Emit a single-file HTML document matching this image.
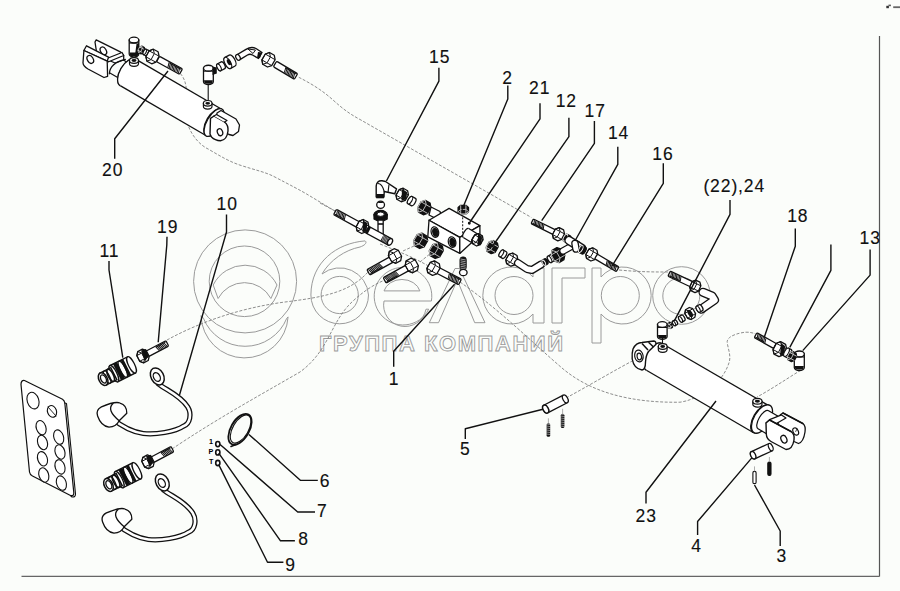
<!DOCTYPE html>
<html><head><meta charset="utf-8"><style>
html,body{margin:0;padding:0;background:#fbfdfa;}
svg{display:block;font-family:"Liberation Sans",sans-serif;}
</style></head><body>
<svg width="900" height="591" viewBox="0 0 900 591">
<rect width="900" height="591" fill="#fbfdfa"/>
<g fill="none" stroke="#9a9a9a" stroke-width="1">
<circle cx="245.1" cy="281.4" r="51.5"/><circle cx="244.5" cy="281.3" r="35.3"/>
<path d="M213.2,285 A35.6,35.6 0 0 1 277,285 L270.9,298.5 A29.9,29.9 0 0 0 218.1,298.5 Z"/>
<path d="M201,315.7 A43.6,43.6 0 0 0 288.1,316.9 L286.8,318.2 A45,45 0 0 1 203.4,318.2 Z"/>
<path d="M365.1,240.9 C337,243 311,262 310.9,295 A28.8,28.8 0 0 0 368.5,295 A28.8,28.8 0 0 0 322,274 C330,260 345,250 360,247 C366,245 367,242 365.1,240.9 Z"/>
<circle cx="339.7" cy="295" r="18.6"/>
<path d="M431.4,301 A28.8,28.8 0 1 0 428.7,309.2 L426,309.2 A18.6,18.6 0 0 1 384,301 Z"/>
<path d="M384,290.9 A18.6,15.5 0 0 1 419.9,290.9 Z"/>
<path d="M429.3,322.7 L455,268.5 L459.5,268.5 L485,322.7 L474.7,322.7 L457.3,280 L438.5,322.7 Z"/>
<path d="M544,268 L544,323 L533,323 L533,314 A28.5,28.5 0 1 1 533,277 L533,268 Z"/>
<circle cx="514" cy="295.5" r="19"/>
<path d="M552,323 L552,268 L585,268 L585,278 L562,278 L562,323 Z"/>
<path d="M592,343 L592,268 L601,268 L601,277 A28.5,28.5 0 1 1 601,314 L601,343 Z"/>
<circle cx="620.3" cy="295.5" r="19"/>
<circle cx="681.5" cy="295.5" r="28.8"/><circle cx="681.3" cy="296" r="18.5"/>
</g>
<text x="319" y="351" font-size="22" font-weight="bold" textLength="244" lengthAdjust="spacing" fill="#fbfdfa" stroke="#9a9a9a" stroke-width="0.9">ГРУППА КОМПАНИЙ</text>
<line x1="879.5" y1="36" x2="879.5" y2="576.5" stroke="#555" stroke-width="1.2" />
<line x1="21.5" y1="576.3" x2="879.5" y2="576.3" stroke="#666" stroke-width="1.2" />
<rect x="886.3" y="5.8" width="2.6" height="2.4" fill="#333"/><rect x="888.5" y="4.6" width="2.4" height="1.6" fill="#555"/><rect x="893.2" y="6.3" width="6.8" height="1.8" fill="#666"/>
<text x="429" y="62.9" font-size="17.5" text-anchor="start" letter-spacing="0.9" stroke="#000" stroke-width="0.12" fill="#111">15</text>
<text x="502.3" y="84.0" font-size="17.5" text-anchor="start" letter-spacing="0.9" stroke="#000" stroke-width="0.12" fill="#111">2</text>
<text x="529" y="94.0" font-size="17.5" text-anchor="start" letter-spacing="0.9" stroke="#000" stroke-width="0.12" fill="#111">21</text>
<text x="555.7" y="107.39999999999999" font-size="17.5" text-anchor="start" letter-spacing="0.9" stroke="#000" stroke-width="0.12" fill="#111">12</text>
<text x="584.6" y="117.39999999999999" font-size="17.5" text-anchor="start" letter-spacing="0.9" stroke="#000" stroke-width="0.12" fill="#111">17</text>
<text x="607.9" y="138.5" font-size="17.5" text-anchor="start" letter-spacing="0.9" stroke="#000" stroke-width="0.12" fill="#111">14</text>
<text x="652.3" y="159.6" font-size="17.5" text-anchor="start" letter-spacing="0.9" stroke="#000" stroke-width="0.12" fill="#111">16</text>
<text x="703.4" y="192.1" font-size="17.5" text-anchor="start" letter-spacing="0.9" stroke="#000" stroke-width="0.12" fill="#111">(22),24</text>
<text x="787.2" y="221.7" font-size="17.5" text-anchor="start" letter-spacing="0.9" stroke="#000" stroke-width="0.12" fill="#111">18</text>
<text x="859.5" y="244.2" font-size="17.5" text-anchor="start" letter-spacing="0.9" stroke="#000" stroke-width="0.12" fill="#111">13</text>
<text x="102" y="175.79999999999998" font-size="17.5" text-anchor="start" letter-spacing="0.9" stroke="#000" stroke-width="0.12" fill="#111">20</text>
<text x="216.6" y="210.29999999999998" font-size="17.5" text-anchor="start" letter-spacing="0.9" stroke="#000" stroke-width="0.12" fill="#111">10</text>
<text x="157.1" y="232.6" font-size="17.5" text-anchor="start" letter-spacing="0.9" stroke="#000" stroke-width="0.12" fill="#111">19</text>
<text x="99.5" y="256.70000000000005" font-size="17.5" text-anchor="start" letter-spacing="0.9" stroke="#000" stroke-width="0.12" fill="#111">11</text>
<text x="388.8" y="385.0" font-size="17.5" text-anchor="start" letter-spacing="0.9" stroke="#000" stroke-width="0.12" fill="#111">1</text>
<text x="460" y="455.20000000000005" font-size="17.5" text-anchor="start" letter-spacing="0.9" stroke="#000" stroke-width="0.12" fill="#111">5</text>
<text x="319.7" y="487.20000000000005" font-size="17.5" text-anchor="start" letter-spacing="0.9" stroke="#000" stroke-width="0.12" fill="#111">6</text>
<text x="316.9" y="517.4" font-size="17.5" text-anchor="start" letter-spacing="0.9" stroke="#000" stroke-width="0.12" fill="#111">7</text>
<text x="298.2" y="544.7" font-size="17.5" text-anchor="start" letter-spacing="0.9" stroke="#000" stroke-width="0.12" fill="#111">8</text>
<text x="285.2" y="570.6" font-size="17.5" text-anchor="start" letter-spacing="0.9" stroke="#000" stroke-width="0.12" fill="#111">9</text>
<text x="635.6" y="521.7" font-size="17.5" text-anchor="start" letter-spacing="0.9" stroke="#000" stroke-width="0.12" fill="#111">23</text>
<text x="691.2" y="552.3000000000001" font-size="17.5" text-anchor="start" letter-spacing="0.9" stroke="#000" stroke-width="0.12" fill="#111">4</text>
<text x="776.5" y="561.8000000000001" font-size="17.5" text-anchor="start" letter-spacing="0.9" stroke="#000" stroke-width="0.12" fill="#111">3</text>
<path d="M298.8,77.3 C310,83 322,90 333,100 C342,108 348,113 360,119.5 L531.3,217.4" fill="none" stroke="#7a7a7a" stroke-width="0.85" stroke-dasharray="3 1.6"/>
<path d="M180.3,73.5 C188,82 187,95 185.7,111.4 C185,125 195,143 208.7,149.3 C220,156 230,162 241.2,165.5 C255,170 265,172 273.7,176.4 C290,185 300,190 308.8,195.3 L335.9,211.6" fill="none" stroke="#7a7a7a" stroke-width="0.85" stroke-dasharray="3 1.6"/>
<path d="M167,340 C200,322 240,308 285,302 C325,297 350,292 368,272" fill="none" stroke="#7a7a7a" stroke-width="0.85" stroke-dasharray="3 1.6"/>
<path d="M172,449 C215,420 255,398 300,372 C330,350 330,322 353,301 C365,290 375,284 385,280" fill="none" stroke="#7a7a7a" stroke-width="0.85" stroke-dasharray="3 1.6"/>
<path d="M460,282 C500,310 535,345 562,368 C590,392 630,403 680,402.2 C695,400 705,392 715,384 C722,378 727,370 729.5,361.1 C731,354 727,346 727.2,341.3 C728,336 738,333 745.5,332.2 C750,332 753,333 755.4,333.7" fill="none" stroke="#7a7a7a" stroke-width="0.85" stroke-dasharray="3 1.6"/>
<path d="M566,398 C590,385 615,370 636,359" fill="none" stroke="#7a7a7a" stroke-width="0.85" stroke-dasharray="3 1.6"/>
<path d="M801,370 C785,380 770,390 757,397" fill="none" stroke="#7a7a7a" stroke-width="0.85" stroke-dasharray="3 1.6"/>
<path d="M619,270 C640,272 655,272 669,272" fill="none" stroke="#7a7a7a" stroke-width="0.85" stroke-dasharray="3 1.6"/>
<path d="M380,244 C400,252 415,258 432,268" fill="none" stroke="#7a7a7a" stroke-width="0.85" stroke-dasharray="3 1.6"/>
<path d="M403,251 L414,246" fill="none" stroke="#7a7a7a" stroke-width="0.85" stroke-dasharray="3 1.6"/>
<path d="M420,262 L431,253" fill="none" stroke="#7a7a7a" stroke-width="0.85" stroke-dasharray="3 1.6"/>
<path d="M320,203 L335,211" fill="none" stroke="#7a7a7a" stroke-width="0.85" stroke-dasharray="3 1.6"/>
<g transform="translate(127.9 72.4) rotate(30.2)">
<path d="M0,-15.3 L99.61536026135728,-15.3 L99.61536026135728,15.3 L0,15.3 A7.65,15.3 0 0 1 0,-15.3 Z" fill="#fff" stroke="none"/>
<line x1="0" y1="-15.3" x2="99.61536026135728" y2="-15.3" stroke="#111" stroke-width="1.3"/>
<line x1="0" y1="15.3" x2="99.61536026135728" y2="15.3" stroke="#111" stroke-width="1.3"/>
<path d="M0,-15.3 A7.65,15.3 0 0 0 0,15.3" fill="#fff" stroke="#111" stroke-width="1.3"/>
<ellipse cx="99.61536026135728" cy="0" rx="7.65" ry="15.3" fill="#fff" stroke="#111" stroke-width="1.3"/>
</g>
<g transform="translate(214.0 122.5) rotate(30.2)">
<ellipse cx="0" cy="0" rx="7" ry="15.6" fill="#fff" stroke="#111" stroke-width="1.3"/>
</g>
<polygon points="217.0,113.0 221.0,110.5 236.0,119.0 239.5,125.0 238.5,131.5 233.0,135.5 229.0,134.5 215.0,126.0" fill="#fff" stroke="#111" stroke-width="1.3" stroke-linejoin="round" />
<path d="M210.5,118.3 L214,116 L224.5,122 Q228.5,125 228,131 Q227,140 220.5,140.8 Q215,140.5 211.5,137 L210,134 Z" fill="#fff" stroke="#111" stroke-width="1.4" stroke-linejoin="round" stroke-linecap="round" />
<path d="M214,116 L216.5,114.5 L227,120.5 L224.5,122" fill="#fff" stroke="#111" stroke-width="1.2" stroke-linejoin="round" stroke-linecap="round" />
<ellipse cx="220" cy="132.2" rx="2.6" ry="3.6" transform="rotate(-20 220 132.2)" fill="#fff" stroke="#111" stroke-width="1.3" />
<g transform="translate(114.0 65.0) rotate(30.2)">
<path d="M0,-9 L10,-9 M0,9 L10,9" fill="none" stroke="#111" stroke-width="1.2"/>
</g>
<polygon points="95.0,42.0 96.2,39.9 120.3,51.8 123.7,55.5 123.7,60.0 115.0,63.0 97.0,55.0" fill="#fff" stroke="#111" stroke-width="1.3" stroke-linejoin="round" />
<ellipse cx="103.4" cy="50.9" rx="2.8" ry="4.2" transform="rotate(-30 103.4 50.9)" fill="#fff" stroke="#111" stroke-width="1.3" />
<polygon points="106.8,58.5 122.0,52.5 123.7,55.5 108.0,62.0" fill="#fff" stroke="#111" stroke-width="1.3" stroke-linejoin="round" />
<polygon points="86.5,45.8 108.5,57.2 107.2,61.1 83.9,50.5" fill="#fff" stroke="#111" stroke-width="1.3" stroke-linejoin="round" />
<path d="M83.9,50.5 L107.2,61.1 L107.6,76.3 L104,77.5 L88,69 Q83,66 83,62.8 Z" fill="#fff" stroke="#111" stroke-width="1.3" stroke-linejoin="round" stroke-linecap="round" />
<ellipse cx="90.3" cy="59.4" rx="2.9" ry="4.2" transform="rotate(-30 90.3 59.4)" fill="#fff" stroke="#111" stroke-width="1.3" />
<path d="M125.4,59.4 Q110,63 109.3,73.8" fill="none" stroke="#111" stroke-width="1.2" stroke-linejoin="round" stroke-linecap="round" />
<g transform="translate(127.9 72.4) rotate(30.2)">
<path d="M0,-15.3 A8,15.3 0 0 0 0,15.3" fill="#fff" stroke="#111" stroke-width="1.3"/>
</g>
<path d="M129.5,60.5 L129.5,63.5 A4.5,2.8 0 0 0 138.5,63.5 L138.5,60.5 Z" fill="#fff" stroke="#111" stroke-width="1.2"/>
<ellipse cx="134" cy="60.5" rx="4.5" ry="2.8" fill="#fff" stroke="#111" stroke-width="1.2"/>
<ellipse cx="134" cy="60.5" rx="2.475" ry="1.4" fill="#111" stroke="none"/>
<path d="M203.39999999999998,103.3 L203.39999999999998,106.3 A4.3,2.8 0 0 0 212.0,106.3 L212.0,103.3 Z" fill="#fff" stroke="#111" stroke-width="1.2"/>
<ellipse cx="207.7" cy="103.3" rx="4.3" ry="2.8" fill="#fff" stroke="#111" stroke-width="1.2"/>
<ellipse cx="207.7" cy="103.3" rx="2.365" ry="1.4" fill="#111" stroke="none"/>
<line x1="208.2" y1="83" x2="208.2" y2="100" stroke="#111" stroke-width="1.1" />
<path d="M129.2,40.1 L129.2,54.1 A4.8,2.88 0 0 0 138.8,54.1 L138.8,40.1 Z" fill="#fff" stroke="#111" stroke-width="1.3"/>
<ellipse cx="134" cy="40.1" rx="4.8" ry="2.88" fill="#fff" stroke="#111" stroke-width="1.3"/>
<line x1="129.2" y1="43.1" x2="138.8" y2="43.1" stroke="#111" stroke-width="1"/>
<path d="M129.7,52.6 L138.3,52.6 L137.8,56.1 L130.2,56.1 Z" fill="#111"/>
<path d="M136.5,44 L139,44 L139,54 L135,55 Z" fill="#111"/>
<polygon points="137.9,50.2 139.6,47.0 141.8,46.1 144.3,47.5 144.9,49.8 143.2,53.0 141.1,53.9 138.5,52.5" fill="#111" stroke="#111" stroke-width="1.3" stroke-linejoin="round"/>
<polygon points="138.5,52.5 140.7,51.7 142.3,48.5 141.8,46.1 139.6,47.0 137.9,50.2" fill="none" stroke="#fff" stroke-width="0.7"/>
<line x1="140.69" y1="51.66" x2="143.25" y2="52.97" stroke="#fff" stroke-width="0.7"/>
<line x1="142.32" y1="48.45" x2="144.89" y2="49.76" stroke="#fff" stroke-width="0.7"/>
<line x1="139.55" y1="47.03" x2="142.11" y2="48.34" stroke="#fff" stroke-width="0.7"/>
<line x1="137.91" y1="50.24" x2="140.48" y2="51.55" stroke="#fff" stroke-width="0.7"/>
<g transform="translate(146.0 52.5) rotate(27.0)">
<path d="M-1.35,-3.0 L1.35,-3.0 A1.35,3.0 0 0 1 1.35,3.0 L-1.35,3.0 A1.35,3.0 0 0 1 -1.35,-3.0 Z" fill="#fff" stroke="#111" stroke-width="1.3"/>
<ellipse cx="-1.35" cy="0" rx="1.35" ry="3.0" fill="#fff" stroke="#111" stroke-width="1.1"/>
</g>
<g transform="translate(181.0 71.6) rotate(-151.3)">
<rect x="0" y="-3.1" width="26.2251787410496" height="6.2" rx="1.2" fill="#fff" stroke="#111" stroke-width="1.3"/>
<line x1="1.5" y1="-2.6" x2="2.9" y2="2.6" stroke="#111" stroke-width="1.0"/>
<line x1="3.0" y1="-2.6" x2="4.4" y2="2.6" stroke="#111" stroke-width="1.0"/>
<line x1="4.5" y1="-2.6" x2="5.9" y2="2.6" stroke="#111" stroke-width="1.0"/>
<line x1="6.0" y1="-2.6" x2="7.4" y2="2.6" stroke="#111" stroke-width="1.0"/>
<line x1="7.5" y1="-2.6" x2="8.9" y2="2.6" stroke="#111" stroke-width="1.0"/>
<line x1="9.0" y1="-2.6" x2="10.4" y2="2.6" stroke="#111" stroke-width="1.0"/>
<line x1="10.5" y1="-2.6" x2="11.9" y2="2.6" stroke="#111" stroke-width="1.0"/>
<line x1="12.0" y1="-2.6" x2="13.4" y2="2.6" stroke="#111" stroke-width="1.0"/>
<line x1="13.5" y1="-2.6" x2="14.9" y2="2.6" stroke="#111" stroke-width="1.0"/>
<line x1="1" y1="2.1" x2="14.42384830757728" y2="2.1" stroke="#111" stroke-width="1"/>
</g>
<polygon points="145.9,56.8 149.1,50.8 153.3,49.2 158.1,51.8 159.1,56.2 155.9,62.2 151.7,63.8 146.9,61.2" fill="#fff" stroke="#111" stroke-width="1.3" stroke-linejoin="round"/>
<polygon points="146.9,61.2 151.1,59.6 154.3,53.6 153.3,49.2 149.1,50.8 145.9,56.8" fill="none" stroke="#111" stroke-width="1.0"/>
<line x1="151.1" y1="59.61" x2="155.91" y2="62.16" stroke="#111" stroke-width="1.0"/>
<line x1="154.29" y1="53.6" x2="159.1" y2="56.16" stroke="#111" stroke-width="1.0"/>
<line x1="149.09" y1="50.84" x2="153.9" y2="53.39" stroke="#111" stroke-width="1.0"/>
<line x1="145.9" y1="56.84" x2="150.71" y2="59.4" stroke="#111" stroke-width="1.0"/>
<path d="M203.5,68.2 L203.5,81.7 A4.9,2.94 0 0 0 213.3,81.7 L213.3,68.2 Z" fill="#fff" stroke="#111" stroke-width="1.3"/>
<ellipse cx="208.4" cy="68.2" rx="4.9" ry="2.94" fill="#fff" stroke="#111" stroke-width="1.3"/>
<line x1="203.5" y1="71.2" x2="213.3" y2="71.2" stroke="#111" stroke-width="1"/>
<path d="M204.0,80.2 L212.8,80.2 L212.3,83.7 L204.5,83.7 Z" fill="#111"/>
<path d="M212.5,66.5 L216.8,67.5 L216.8,73.5 L212.5,75 Z" fill="#111"/>
<g transform="translate(221.0 66.3) rotate(-28.0)">
<path d="M-2.25,-3.8 L2.25,-3.8 A1.71,3.8 0 0 1 2.25,3.8 L-2.25,3.8 A1.71,3.8 0 0 1 -2.25,-3.8 Z" fill="#fff" stroke="#111" stroke-width="1.3"/>
<ellipse cx="-2.25" cy="0" rx="1.71" ry="3.8" fill="#fff" stroke="#111" stroke-width="1.1"/>
</g>
<g transform="translate(230.0 61.7) rotate(-28.0)">
<path d="M-2.5,-6.2 L2.5,-6.2 A2.79,6.2 0 0 1 2.5,6.2 L-2.5,6.2 A2.79,6.2 0 0 1 -2.5,-6.2 Z" fill="#fff" stroke="#111" stroke-width="1.3"/>
<ellipse cx="-2.5" cy="0" rx="2.79" ry="6.2" fill="#fff" stroke="#111" stroke-width="1.1"/>
</g>
<ellipse cx="229" cy="62.2" rx="1.8" ry="3.2" transform="rotate(-28 229 62.2)" fill="#111"/>
<path d="M236.5,55 L246,49.3 Q251.5,46 256,48.5 L262,52.5 L258.5,58.5 L252.5,55 Q250,53.5 247.5,55 L239.5,59.8 Z" fill="#fff" stroke="#111" stroke-width="1.4" stroke-linejoin="round"/>
<ellipse cx="238" cy="57.4" rx="2" ry="3.1" transform="rotate(-30 238 57.4)" fill="#fff" stroke="#111" stroke-width="1.2"/>
<path d="M248,49 L253,53.5 L255.5,50 Z" fill="none" stroke="#111" stroke-width="1"/>
<path d="M258,52 L262,52.5 L260,58 L257,58 Z" fill="#111"/>
<polygon points="261.9,59.9 265.3,54.0 269.5,52.5 274.3,55.3 275.1,59.7 271.7,65.6 267.5,67.0 262.7,64.3" fill="#fff" stroke="#111" stroke-width="1.3" stroke-linejoin="round"/>
<polygon points="262.7,64.3 267.0,62.9 270.4,57.0 269.5,52.5 265.3,54.0 261.9,59.9" fill="none" stroke="#111" stroke-width="1.0"/>
<line x1="266.99" y1="62.86" x2="271.71" y2="65.58" stroke="#111" stroke-width="1.0"/>
<line x1="270.39" y1="56.97" x2="275.11" y2="59.69" stroke="#111" stroke-width="1.0"/>
<line x1="265.29" y1="54.02" x2="270.01" y2="56.74" stroke="#111" stroke-width="1.0"/>
<line x1="261.89" y1="59.91" x2="266.61" y2="62.63" stroke="#111" stroke-width="1.0"/>
<g transform="translate(296.0 76.5) rotate(-149.2)">
<rect x="0" y="-3.2" width="24.438698819699873" height="6.4" rx="1.2" fill="#fff" stroke="#111" stroke-width="1.3"/>
<line x1="1.5" y1="-2.7" x2="2.9" y2="2.7" stroke="#111" stroke-width="1.0"/>
<line x1="3.0" y1="-2.7" x2="4.4" y2="2.7" stroke="#111" stroke-width="1.0"/>
<line x1="4.5" y1="-2.7" x2="5.9" y2="2.7" stroke="#111" stroke-width="1.0"/>
<line x1="6.0" y1="-2.7" x2="7.4" y2="2.7" stroke="#111" stroke-width="1.0"/>
<line x1="7.5" y1="-2.7" x2="8.9" y2="2.7" stroke="#111" stroke-width="1.0"/>
<line x1="9.0" y1="-2.7" x2="10.4" y2="2.7" stroke="#111" stroke-width="1.0"/>
<line x1="10.5" y1="-2.7" x2="11.9" y2="2.7" stroke="#111" stroke-width="1.0"/>
<line x1="12.0" y1="-2.7" x2="13.4" y2="2.7" stroke="#111" stroke-width="1.0"/>
<line x1="1" y1="2.2" x2="13.44128435083493" y2="2.2" stroke="#111" stroke-width="1"/>
</g>
<path d="M376.2,197 L376.2,186 Q376.5,180.5 382,180.8 L385.5,181.5 L396.5,188.8 L394.8,193.8 L384.2,191.5 L384,197 Z" fill="#fff" stroke="#111" stroke-width="1.4" stroke-linejoin="round"/>
<path d="M377.5,183.5 Q382,183 384.2,191.5" fill="none" stroke="#111" stroke-width="1.1"/>
<path d="M376.2,194 L384,194 L384,198.3 L376.2,198.3 Z" fill="#111"/>
<line x1="389" y1="184.5" x2="388" y2="192.5" stroke="#111" stroke-width="1.1" />
<polygon points="396.0,195.1 399.2,189.6 403.2,188.2 407.6,190.7 408.4,194.9 405.2,200.4 401.2,201.8 396.8,199.3" fill="#fff" stroke="#111" stroke-width="1.3" stroke-linejoin="round"/>
<polygon points="396.8,199.3 400.8,197.9 404.0,192.3 403.2,188.2 399.2,189.6 396.0,195.1" fill="none" stroke="#111" stroke-width="1.0"/>
<line x1="400.78" y1="197.88" x2="405.22" y2="200.44" stroke="#111" stroke-width="1.0"/>
<line x1="403.98" y1="192.33" x2="408.42" y2="194.89" stroke="#111" stroke-width="1.0"/>
<line x1="399.18" y1="189.56" x2="403.62" y2="192.12" stroke="#111" stroke-width="1.0"/>
<line x1="395.98" y1="195.11" x2="400.42" y2="197.67" stroke="#111" stroke-width="1.0"/>
<path d="M402,189 L407,192 L406.5,199 L401.5,201 Z" fill="#111"/>
<g transform="translate(411.7 201.1) rotate(30.0)">
<path d="M-1.8900000000000001,-4.2 L1.8900000000000001,-4.2 A1.8900000000000001,4.2 0 0 1 1.8900000000000001,4.2 L-1.8900000000000001,4.2 A1.8900000000000001,4.2 0 0 1 -1.8900000000000001,-4.2 Z" fill="#fff" stroke="#111" stroke-width="1.3"/>
<ellipse cx="-1.8900000000000001" cy="0" rx="1.8900000000000001" ry="4.2" fill="#fff" stroke="#111" stroke-width="1.1"/>
</g>
<polygon points="417.7,207.7 421.1,201.8 425.3,200.3 430.1,203.1 430.9,207.5 427.5,213.4 423.3,214.8 418.5,212.1" fill="#111" stroke="#111" stroke-width="1.3" stroke-linejoin="round"/>
<polygon points="418.5,212.1 422.8,210.7 426.2,204.8 425.3,200.3 421.1,201.8 417.7,207.7" fill="none" stroke="#fff" stroke-width="0.7"/>
<line x1="422.79" y1="210.66" x2="427.51" y2="213.38" stroke="#fff" stroke-width="0.7"/>
<line x1="426.19" y1="204.77" x2="430.91" y2="207.49" stroke="#fff" stroke-width="0.7"/>
<line x1="421.09" y1="201.82" x2="425.81" y2="204.54" stroke="#fff" stroke-width="0.7"/>
<line x1="417.69" y1="207.71" x2="422.41" y2="210.43" stroke="#fff" stroke-width="0.7"/>
<polygon points="431.0,207.0 440.0,211.5 441.5,216.0 437.0,219.0 429.0,215.0" fill="#fff" stroke="#111" stroke-width="1.3" stroke-linejoin="round" />
<ellipse cx="380.6" cy="204.8" rx="3.9" ry="3.6" transform="rotate(0 380.6 204.8)" fill="#fff" stroke="#111" stroke-width="1.3" />
<path d="M377,203 Q380.6,200 384.2,203 Z" fill="#111"/>
<path d="M374,214.5 L374,219 Q380.6,223.5 387.2,219 L387.2,214.5 Z" fill="#111" stroke="#111" stroke-width="1.2"/>
<ellipse cx="380.6" cy="214.8" rx="6.6" ry="4.3" transform="rotate(0 380.6 214.8)" fill="#111" stroke="#111" stroke-width="1.3" />
<ellipse cx="380.6" cy="214.2" rx="3.6" ry="2.2" transform="rotate(0 380.6 214.2)" fill="#fff" stroke="#111" stroke-width="1" />
<path d="M378,220 L378,232 L383.2,234.5 L383.2,220 Z" fill="#fff" stroke="#111" stroke-width="1.3"/>
<line x1="378" y1="224" x2="383.2" y2="224" stroke="#111" stroke-width="1.6" />
<g transform="translate(368.0 230.0) rotate(28.5)">
<rect x="0" y="-3.6" width="25" height="7.2" fill="#fff" stroke="#111" stroke-width="1.3"/>
<rect x="16" y="-3.6" width="7" height="7.2" fill="#111"/>
<line x1="16.5" y1="-3" x2="17.5" y2="3" stroke="#fff" stroke-width="0.5"/>
<line x1="17.9" y1="-3" x2="18.9" y2="3" stroke="#fff" stroke-width="0.5"/>
<line x1="19.3" y1="-3" x2="20.3" y2="3" stroke="#fff" stroke-width="0.5"/>
<line x1="20.7" y1="-3" x2="21.7" y2="3" stroke="#fff" stroke-width="0.5"/>
<line x1="22.1" y1="-3" x2="23.1" y2="3" stroke="#fff" stroke-width="0.5"/>
<ellipse cx="25" cy="0" rx="2.2" ry="3.6" fill="#fff" stroke="#111" stroke-width="1.3"/>
<rect x="-3.5" y="-3.9" width="5" height="7.8" fill="#111"/>
</g>
<g transform="translate(335.0 212.0) rotate(28.5)">
<rect x="0" y="-3.0" width="26.177280225416848" height="6.0" rx="1.2" fill="#fff" stroke="#111" stroke-width="1.3"/>
<line x1="1.5" y1="-2.5" x2="2.9" y2="2.5" stroke="#111" stroke-width="1.0"/>
<line x1="3.0" y1="-2.5" x2="4.4" y2="2.5" stroke="#111" stroke-width="1.0"/>
<line x1="4.5" y1="-2.5" x2="5.9" y2="2.5" stroke="#111" stroke-width="1.0"/>
<line x1="6.0" y1="-2.5" x2="7.4" y2="2.5" stroke="#111" stroke-width="1.0"/>
<line x1="7.5" y1="-2.5" x2="8.9" y2="2.5" stroke="#111" stroke-width="1.0"/>
<line x1="9.0" y1="-2.5" x2="10.4" y2="2.5" stroke="#111" stroke-width="1.0"/>
<line x1="10.5" y1="-2.5" x2="11.9" y2="2.5" stroke="#111" stroke-width="1.0"/>
<line x1="1" y1="2.0" x2="11.779776101437582" y2="2.0" stroke="#111" stroke-width="1"/>
</g>
<polygon points="356.2,226.8 359.2,221.1 363.3,219.5 367.9,222.0 368.8,226.2 365.8,231.9 361.7,233.5 357.1,231.0" fill="#fff" stroke="#111" stroke-width="1.3" stroke-linejoin="round"/>
<polygon points="357.1,231.0 361.2,229.5 364.2,223.7 363.3,219.5 359.2,221.1 356.2,226.8" fill="none" stroke="#111" stroke-width="1.0"/>
<line x1="361.16" y1="229.47" x2="365.76" y2="231.91" stroke="#111" stroke-width="1.0"/>
<line x1="364.22" y1="223.73" x2="368.81" y2="226.17" stroke="#111" stroke-width="1.0"/>
<line x1="359.24" y1="221.09" x2="363.84" y2="223.53" stroke="#111" stroke-width="1.0"/>
<line x1="356.19" y1="226.83" x2="360.78" y2="229.27" stroke="#111" stroke-width="1.0"/>
<path d="M363,220.5 L367.5,223 L366.5,231 L362.5,232.5 Z" fill="#111"/>
<polygon points="429.0,220.2 449.1,208.4 479.9,225.6 459.8,237.4" fill="#fff" stroke="#111" stroke-width="1.3" stroke-linejoin="round" />
<polygon points="429.0,220.2 459.8,237.4 459.8,253.4 427.8,236.8" fill="#fff" stroke="#111" stroke-width="1.3" stroke-linejoin="round" />
<polygon points="459.8,237.4 479.9,225.6 479.9,235.0 459.8,253.4" fill="#fff" stroke="#111" stroke-width="1.3" stroke-linejoin="round" />
<ellipse cx="434.9" cy="232.1" rx="3.7" ry="5.3" transform="rotate(-15 434.9 232.1)" fill="#fff" stroke="#111" stroke-width="1.3" />
<ellipse cx="435.29999999999995" cy="232.4" rx="2.4" ry="3.8" transform="rotate(-15 435.29999999999995 232.4)" fill="#111" stroke="#111" stroke-width="1.3" />
<ellipse cx="452.1" cy="242.1" rx="3.7" ry="5.3" transform="rotate(-15 452.1 242.1)" fill="#fff" stroke="#111" stroke-width="1.3" />
<ellipse cx="452.5" cy="242.4" rx="2.4" ry="3.8" transform="rotate(-15 452.5 242.4)" fill="#111" stroke="#111" stroke-width="1.3" />
<line x1="462.7" y1="217.3" x2="462.7" y2="235" stroke="#111" stroke-width="1" stroke-dasharray="2 1.5"/>
<ellipse cx="469.3" cy="223.2" rx="0.8" ry="0.8" transform="rotate(0 469.3 223.2)" fill="#111" stroke="#111" stroke-width="1.3" />
<polygon points="458.1,207.5 460.7,205.3 465.9,205.3 468.5,207.5 468.5,211.7 465.9,213.9 460.7,213.9 458.1,211.7" fill="#111" stroke="#111" stroke-width="1.3" stroke-linejoin="round"/>
<polygon points="468.5,211.7 465.9,209.4 460.7,209.4 458.1,211.7 460.7,213.9 465.9,213.9" fill="none" stroke="#fff" stroke-width="0.7"/>
<line x1="465.9" y1="209.43" x2="465.9" y2="205.27" stroke="#fff" stroke-width="0.7"/>
<line x1="460.7" y1="209.43" x2="460.7" y2="205.27" stroke="#fff" stroke-width="0.7"/>
<line x1="460.7" y1="213.93" x2="460.7" y2="209.77" stroke="#fff" stroke-width="0.7"/>
<line x1="465.9" y1="213.93" x2="465.9" y2="209.77" stroke="#fff" stroke-width="0.7"/>
<g transform="translate(466.0 233.0) rotate(31.4)">
<path d="M0,-5.2 L10.547511554864494,-5.2 L10.547511554864494,5.2 L0,5.2 A2.08,5.2 0 0 1 0,-5.2 Z" fill="#fff" stroke="none"/>
<line x1="0" y1="-5.2" x2="10.547511554864494" y2="-5.2" stroke="#111" stroke-width="1.3"/>
<line x1="0" y1="5.2" x2="10.547511554864494" y2="5.2" stroke="#111" stroke-width="1.3"/>
<path d="M0,-5.2 A2.08,5.2 0 0 0 0,5.2" fill="#fff" stroke="#111" stroke-width="1.3"/>
<ellipse cx="10.547511554864494" cy="0" rx="2.08" ry="5.2" fill="#fff" stroke="#111" stroke-width="1.3"/>
</g>
<polygon points="471.9,239.9 474.8,234.9 478.4,233.6 482.4,235.9 483.1,239.7 480.2,244.7 476.6,246.0 472.6,243.7" fill="#fff" stroke="#111" stroke-width="1.3" stroke-linejoin="round"/>
<polygon points="472.6,243.7 476.2,242.4 479.1,237.4 478.4,233.6 474.8,234.9 471.9,239.9" fill="none" stroke="#111" stroke-width="1.0"/>
<line x1="476.22" y1="242.41" x2="480.23" y2="244.73" stroke="#111" stroke-width="1.0"/>
<line x1="479.12" y1="237.38" x2="483.13" y2="239.7" stroke="#111" stroke-width="1.0"/>
<line x1="474.77" y1="234.87" x2="478.78" y2="237.19" stroke="#111" stroke-width="1.0"/>
<line x1="471.87" y1="239.9" x2="475.88" y2="242.22" stroke="#111" stroke-width="1.0"/>
<path d="M478,234 L482,236.5 L481.5,244 L477.5,246 Z" fill="#111"/>
<polygon points="486.2,247.2 489.3,241.8 493.1,240.5 497.4,243.0 498.2,247.0 495.1,252.4 491.2,253.7 486.9,251.2" fill="#111" stroke="#111" stroke-width="1.3" stroke-linejoin="round"/>
<polygon points="486.9,251.2 490.8,249.9 493.9,244.5 493.1,240.5 489.3,241.8 486.2,247.2" fill="none" stroke="#fff" stroke-width="0.7"/>
<line x1="490.83" y1="249.89" x2="495.12" y2="252.37" stroke="#fff" stroke-width="0.7"/>
<line x1="493.93" y1="244.52" x2="498.22" y2="247.0" stroke="#fff" stroke-width="0.7"/>
<line x1="489.28" y1="241.83" x2="493.57" y2="244.31" stroke="#fff" stroke-width="0.7"/>
<line x1="486.18" y1="247.2" x2="490.47" y2="249.68" stroke="#fff" stroke-width="0.7"/>
<g transform="translate(502.9 254.2) rotate(30.0)">
<path d="M-1.71,-3.8 L1.71,-3.8 A1.71,3.8 0 0 1 1.71,3.8 L-1.71,3.8 A1.71,3.8 0 0 1 -1.71,-3.8 Z" fill="#fff" stroke="#111" stroke-width="1.3"/>
<ellipse cx="-1.71" cy="0" rx="1.71" ry="3.8" fill="#fff" stroke="#111" stroke-width="1.1"/>
</g>
<polygon points="505.8,259.7 508.9,254.3 512.8,253.0 517.0,255.5 517.8,259.5 514.7,264.9 510.9,266.2 506.6,263.7" fill="#fff" stroke="#111" stroke-width="1.3" stroke-linejoin="round"/>
<polygon points="506.6,263.7 510.4,262.4 513.5,257.0 512.8,253.0 508.9,254.3 505.8,259.7" fill="none" stroke="#111" stroke-width="1.0"/>
<line x1="510.43" y1="262.39" x2="514.72" y2="264.87" stroke="#111" stroke-width="1.0"/>
<line x1="513.53" y1="257.02" x2="517.82" y2="259.5" stroke="#111" stroke-width="1.0"/>
<line x1="508.88" y1="254.33" x2="513.17" y2="256.81" stroke="#111" stroke-width="1.0"/>
<line x1="505.78" y1="259.7" x2="510.07" y2="262.18" stroke="#111" stroke-width="1.0"/>
<path d="M518.0,263.0 L527.0,269.0 L532.0,270.0 L541.0,264.5" fill="none" stroke="#111" stroke-width="8.1" stroke-linejoin="round" stroke-linecap="round"/>
<path d="M518.0,263.0 L527.0,269.0 L532.0,270.0 L541.0,264.5" fill="none" stroke="#fff" stroke-width="5.5" stroke-linejoin="round" stroke-linecap="round"/>
<g transform="translate(545.0 262.0) rotate(-30.0)">
<path d="M-1.35,-3.0 L1.35,-3.0 A1.35,3.0 0 0 1 1.35,3.0 L-1.35,3.0 A1.35,3.0 0 0 1 -1.35,-3.0 Z" fill="#111" stroke="#111" stroke-width="1.3"/>
<ellipse cx="-1.35" cy="0" rx="1.35" ry="3.0" fill="#111" stroke="#fff" stroke-width="0.9"/>
</g>
<g transform="translate(551.0 258.5) rotate(-30.0)">
<path d="M-1.62,-3.6 L1.62,-3.6 A1.62,3.6 0 0 1 1.62,3.6 L-1.62,3.6 A1.62,3.6 0 0 1 -1.62,-3.6 Z" fill="#fff" stroke="#111" stroke-width="1.3"/>
<ellipse cx="-1.62" cy="0" rx="1.62" ry="3.6" fill="#fff" stroke="#111" stroke-width="1.1"/>
</g>
<polygon points="551.2,255.0 552.1,250.4 556.9,247.6 561.3,249.2 564.8,255.2 563.9,259.8 559.1,262.6 554.7,261.1" fill="#111" stroke="#111" stroke-width="1.3" stroke-linejoin="round"/>
<polygon points="559.1,262.6 560.0,258.0 556.5,251.9 552.1,250.4 551.2,255.0 554.7,261.1" fill="none" stroke="#fff" stroke-width="0.7"/>
<line x1="559.95" y1="258.02" x2="564.8" y2="255.22" stroke="#fff" stroke-width="0.7"/>
<line x1="556.45" y1="251.95" x2="561.3" y2="249.15" stroke="#fff" stroke-width="0.7"/>
<line x1="551.2" y1="254.98" x2="556.05" y2="252.18" stroke="#fff" stroke-width="0.7"/>
<line x1="554.7" y1="261.05" x2="559.55" y2="258.25" stroke="#fff" stroke-width="0.7"/>
<path d="M563.0,251.0 L572.0,246.0 L577.0,244.5" fill="none" stroke="#111" stroke-width="7.6" stroke-linejoin="round" stroke-linecap="round"/>
<path d="M563.0,251.0 L572.0,246.0 L577.0,244.5" fill="none" stroke="#fff" stroke-width="5.0" stroke-linejoin="round" stroke-linecap="round"/>
<polygon points="413.7,240.9 417.3,234.7 421.8,233.1 426.8,236.0 427.7,240.7 424.1,246.9 419.6,248.5 414.6,245.6" fill="#111" stroke="#111" stroke-width="1.3" stroke-linejoin="round"/>
<polygon points="414.6,245.6 419.1,244.0 422.7,237.8 421.8,233.1 417.3,234.7 413.7,240.9" fill="none" stroke="#fff" stroke-width="0.7"/>
<line x1="419.11" y1="244.04" x2="424.09" y2="246.92" stroke="#fff" stroke-width="0.7"/>
<line x1="422.71" y1="237.8" x2="427.69" y2="240.68" stroke="#fff" stroke-width="0.7"/>
<line x1="417.31" y1="234.68" x2="422.29" y2="237.56" stroke="#fff" stroke-width="0.7"/>
<line x1="413.71" y1="240.92" x2="418.69" y2="243.8" stroke="#fff" stroke-width="0.7"/>
<polygon points="429.3,250.9 432.9,244.7 437.4,243.1 442.4,246.0 443.3,250.7 439.7,256.9 435.2,258.5 430.2,255.6" fill="#111" stroke="#111" stroke-width="1.3" stroke-linejoin="round"/>
<polygon points="430.2,255.6 434.7,254.0 438.3,247.8 437.4,243.1 432.9,244.7 429.3,250.9" fill="none" stroke="#fff" stroke-width="0.7"/>
<line x1="434.71" y1="254.04" x2="439.69" y2="256.92" stroke="#fff" stroke-width="0.7"/>
<line x1="438.31" y1="247.8" x2="443.29" y2="250.68" stroke="#fff" stroke-width="0.7"/>
<line x1="432.91" y1="244.68" x2="437.89" y2="247.56" stroke="#fff" stroke-width="0.7"/>
<line x1="429.31" y1="250.92" x2="434.29" y2="253.8" stroke="#fff" stroke-width="0.7"/>
<g transform="translate(368.4 272.3) rotate(-29.0)">
<rect x="0" y="-3.1" width="27.885659396901513" height="6.2" rx="1.2" fill="#fff" stroke="#111" stroke-width="1.3"/>
<line x1="1.5" y1="-2.6" x2="2.9" y2="2.6" stroke="#111" stroke-width="1.0"/>
<line x1="3.0" y1="-2.6" x2="4.4" y2="2.6" stroke="#111" stroke-width="1.0"/>
<line x1="4.5" y1="-2.6" x2="5.9" y2="2.6" stroke="#111" stroke-width="1.0"/>
<line x1="6.0" y1="-2.6" x2="7.4" y2="2.6" stroke="#111" stroke-width="1.0"/>
<line x1="7.5" y1="-2.6" x2="8.9" y2="2.6" stroke="#111" stroke-width="1.0"/>
<line x1="9.0" y1="-2.6" x2="10.4" y2="2.6" stroke="#111" stroke-width="1.0"/>
<line x1="10.5" y1="-2.6" x2="11.9" y2="2.6" stroke="#111" stroke-width="1.0"/>
<line x1="12.0" y1="-2.6" x2="13.4" y2="2.6" stroke="#111" stroke-width="1.0"/>
<line x1="13.5" y1="-2.6" x2="14.9" y2="2.6" stroke="#111" stroke-width="1.0"/>
<line x1="1" y1="2.1" x2="13.942829698450756" y2="2.1" stroke="#111" stroke-width="1"/>
</g>
<polygon points="388.4,255.8 389.3,251.4 394.1,248.7 398.3,250.3 401.6,256.2 400.7,260.6 395.9,263.3 391.7,261.7" fill="#fff" stroke="#111" stroke-width="1.3" stroke-linejoin="round"/>
<polygon points="395.9,263.3 396.8,258.9 393.6,252.9 389.3,251.4 388.4,255.8 391.7,261.7" fill="none" stroke="#111" stroke-width="1.0"/>
<line x1="396.84" y1="258.86" x2="401.6" y2="256.23" stroke="#111" stroke-width="1.0"/>
<line x1="393.55" y1="252.92" x2="398.31" y2="250.28" stroke="#111" stroke-width="1.0"/>
<line x1="388.4" y1="255.77" x2="393.16" y2="253.14" stroke="#111" stroke-width="1.0"/>
<line x1="391.69" y1="261.72" x2="396.45" y2="259.08" stroke="#111" stroke-width="1.0"/>
<g transform="translate(384.7 280.4) rotate(-28.8)">
<rect x="0" y="-3.1" width="27.167075661542956" height="6.2" rx="1.2" fill="#fff" stroke="#111" stroke-width="1.3"/>
<line x1="1.5" y1="-2.6" x2="2.9" y2="2.6" stroke="#111" stroke-width="1.0"/>
<line x1="3.0" y1="-2.6" x2="4.4" y2="2.6" stroke="#111" stroke-width="1.0"/>
<line x1="4.5" y1="-2.6" x2="5.9" y2="2.6" stroke="#111" stroke-width="1.0"/>
<line x1="6.0" y1="-2.6" x2="7.4" y2="2.6" stroke="#111" stroke-width="1.0"/>
<line x1="7.5" y1="-2.6" x2="8.9" y2="2.6" stroke="#111" stroke-width="1.0"/>
<line x1="9.0" y1="-2.6" x2="10.4" y2="2.6" stroke="#111" stroke-width="1.0"/>
<line x1="10.5" y1="-2.6" x2="11.9" y2="2.6" stroke="#111" stroke-width="1.0"/>
<line x1="12.0" y1="-2.6" x2="13.4" y2="2.6" stroke="#111" stroke-width="1.0"/>
<line x1="13.5" y1="-2.6" x2="14.9" y2="2.6" stroke="#111" stroke-width="1.0"/>
<line x1="1" y1="2.1" x2="13.583537830771478" y2="2.1" stroke="#111" stroke-width="1"/>
</g>
<polygon points="405.2,265.3 406.1,260.9 410.9,258.2 415.1,259.8 418.4,265.7 417.5,270.1 412.7,272.8 408.5,271.2" fill="#fff" stroke="#111" stroke-width="1.3" stroke-linejoin="round"/>
<polygon points="412.7,272.8 413.6,268.4 410.4,262.4 406.1,260.9 405.2,265.3 408.5,271.2" fill="none" stroke="#111" stroke-width="1.0"/>
<line x1="413.64" y1="268.36" x2="418.4" y2="265.73" stroke="#111" stroke-width="1.0"/>
<line x1="410.35" y1="262.42" x2="415.11" y2="259.78" stroke="#111" stroke-width="1.0"/>
<line x1="405.2" y1="265.27" x2="409.96" y2="262.64" stroke="#111" stroke-width="1.0"/>
<line x1="408.49" y1="271.22" x2="413.25" y2="268.58" stroke="#111" stroke-width="1.0"/>
<g transform="translate(460.0 282.0) rotate(-152.4)">
<rect x="0" y="-3.1" width="25.942243542145693" height="6.2" rx="1.2" fill="#fff" stroke="#111" stroke-width="1.3"/>
<line x1="1.5" y1="-2.6" x2="2.9" y2="2.6" stroke="#111" stroke-width="1.0"/>
<line x1="3.0" y1="-2.6" x2="4.4" y2="2.6" stroke="#111" stroke-width="1.0"/>
<line x1="4.5" y1="-2.6" x2="5.9" y2="2.6" stroke="#111" stroke-width="1.0"/>
<line x1="6.0" y1="-2.6" x2="7.4" y2="2.6" stroke="#111" stroke-width="1.0"/>
<line x1="7.5" y1="-2.6" x2="8.9" y2="2.6" stroke="#111" stroke-width="1.0"/>
<line x1="9.0" y1="-2.6" x2="10.4" y2="2.6" stroke="#111" stroke-width="1.0"/>
<line x1="10.5" y1="-2.6" x2="11.9" y2="2.6" stroke="#111" stroke-width="1.0"/>
<line x1="12.0" y1="-2.6" x2="13.4" y2="2.6" stroke="#111" stroke-width="1.0"/>
<line x1="1" y1="2.1" x2="12.971121771072847" y2="2.1" stroke="#111" stroke-width="1"/>
</g>
<polygon points="426.9,268.3 430.3,262.4 434.5,260.9 439.3,263.7 440.1,268.1 436.7,274.0 432.5,275.4 427.7,272.7" fill="#fff" stroke="#111" stroke-width="1.3" stroke-linejoin="round"/>
<polygon points="427.7,272.7 432.0,271.3 435.4,265.4 434.5,260.9 430.3,262.4 426.9,268.3" fill="none" stroke="#111" stroke-width="1.0"/>
<line x1="431.99" y1="271.26" x2="436.71" y2="273.98" stroke="#111" stroke-width="1.0"/>
<line x1="435.39" y1="265.37" x2="440.11" y2="268.09" stroke="#111" stroke-width="1.0"/>
<line x1="430.29" y1="262.42" x2="435.01" y2="265.14" stroke="#111" stroke-width="1.0"/>
<line x1="426.89" y1="268.31" x2="431.61" y2="271.03" stroke="#111" stroke-width="1.0"/>
<rect x="460" y="257" width="6.2" height="13" rx="2.5" fill="#111" stroke="#111" stroke-width="1"/>
<line x1="460.5" y1="259.0" x2="465.7" y2="260.0" stroke="#fff" stroke-width="0.6"/>
<line x1="460.5" y1="260.8" x2="465.7" y2="261.8" stroke="#fff" stroke-width="0.6"/>
<line x1="460.5" y1="262.6" x2="465.7" y2="263.6" stroke="#fff" stroke-width="0.6"/>
<line x1="460.5" y1="264.4" x2="465.7" y2="265.4" stroke="#fff" stroke-width="0.6"/>
<line x1="460.5" y1="266.2" x2="465.7" y2="267.2" stroke="#fff" stroke-width="0.6"/>
<line x1="460.5" y1="268.0" x2="465.7" y2="269.0" stroke="#fff" stroke-width="0.6"/>
<ellipse cx="463.3" cy="272.5" rx="3.8" ry="3.2" transform="rotate(0 463.3 272.5)" fill="#fff" stroke="#111" stroke-width="1.3" />
<g transform="translate(532.2 221.3) rotate(26.2)">
<rect x="0" y="-2.6" width="25.40236209489184" height="5.2" rx="1.2" fill="#fff" stroke="#111" stroke-width="1.3"/>
<line x1="1.5" y1="-2.1" x2="2.9" y2="2.1" stroke="#111" stroke-width="1.0"/>
<line x1="3.0" y1="-2.1" x2="4.4" y2="2.1" stroke="#111" stroke-width="1.0"/>
<line x1="4.5" y1="-2.1" x2="5.9" y2="2.1" stroke="#111" stroke-width="1.0"/>
<line x1="6.0" y1="-2.1" x2="7.4" y2="2.1" stroke="#111" stroke-width="1.0"/>
<line x1="7.5" y1="-2.1" x2="8.9" y2="2.1" stroke="#111" stroke-width="1.0"/>
<line x1="9.0" y1="-2.1" x2="10.4" y2="2.1" stroke="#111" stroke-width="1.0"/>
<line x1="10.5" y1="-2.1" x2="11.9" y2="2.1" stroke="#111" stroke-width="1.0"/>
<line x1="12.0" y1="-2.1" x2="13.4" y2="2.1" stroke="#111" stroke-width="1.0"/>
<line x1="1" y1="1.6" x2="12.70118104744592" y2="1.6" stroke="#111" stroke-width="1"/>
</g>
<polygon points="552.5,234.5 555.4,229.0 559.2,227.6 563.6,229.9 564.5,233.9 561.6,239.4 557.8,240.8 553.4,238.5" fill="#fff" stroke="#111" stroke-width="1.3" stroke-linejoin="round"/>
<polygon points="553.4,238.5 557.2,237.0 560.1,231.6 559.2,227.6 555.4,229.0 552.5,234.5" fill="none" stroke="#111" stroke-width="1.0"/>
<line x1="557.23" y1="237.03" x2="561.6" y2="239.36" stroke="#111" stroke-width="1.0"/>
<line x1="560.14" y1="231.56" x2="564.52" y2="233.89" stroke="#111" stroke-width="1.0"/>
<line x1="555.4" y1="229.04" x2="559.77" y2="231.37" stroke="#111" stroke-width="1.0"/>
<line x1="552.48" y1="234.51" x2="556.86" y2="236.84" stroke="#111" stroke-width="1.0"/>
<g transform="translate(566.9 238.5) rotate(28.0)">
<path d="M-1.71,-3.8 L1.71,-3.8 A1.71,3.8 0 0 1 1.71,3.8 L-1.71,3.8 A1.71,3.8 0 0 1 -1.71,-3.8 Z" fill="#111" stroke="#111" stroke-width="1.3"/>
<ellipse cx="-1.71" cy="0" rx="1.71" ry="3.8" fill="#111" stroke="#fff" stroke-width="0.9"/>
</g>
<path d="M569.0,240.5 L582.0,248.5" fill="none" stroke="#111" stroke-width="9.1" stroke-linejoin="round" stroke-linecap="round"/>
<path d="M569.0,240.5 L582.0,248.5" fill="none" stroke="#fff" stroke-width="6.5" stroke-linejoin="round" stroke-linecap="round"/>
<path d="M575.0,243.5 L576.0,249.0" fill="none" stroke="#111" stroke-width="7.6" stroke-linejoin="round" stroke-linecap="round"/>
<path d="M575.0,243.5 L576.0,249.0" fill="none" stroke="#fff" stroke-width="5" stroke-linejoin="round" stroke-linecap="round"/>
<g transform="translate(582.3 249.8) rotate(28.0)">
<path d="M-1.71,-3.8 L1.71,-3.8 A1.71,3.8 0 0 1 1.71,3.8 L-1.71,3.8 A1.71,3.8 0 0 1 -1.71,-3.8 Z" fill="#111" stroke="#111" stroke-width="1.3"/>
<ellipse cx="-1.71" cy="0" rx="1.71" ry="3.8" fill="#111" stroke="#fff" stroke-width="0.9"/>
</g>
<polygon points="585.8,254.5 588.9,249.1 592.8,247.8 597.0,250.3 597.8,254.3 594.7,259.7 590.9,261.0 586.5,258.5" fill="#fff" stroke="#111" stroke-width="1.3" stroke-linejoin="round"/>
<polygon points="586.5,258.5 590.4,257.2 593.5,251.8 592.8,247.8 588.9,249.1 585.8,254.5" fill="none" stroke="#111" stroke-width="1.0"/>
<line x1="590.43" y1="257.19" x2="594.72" y2="259.67" stroke="#111" stroke-width="1.0"/>
<line x1="593.53" y1="251.82" x2="597.82" y2="254.3" stroke="#111" stroke-width="1.0"/>
<line x1="588.88" y1="249.13" x2="593.17" y2="251.61" stroke="#111" stroke-width="1.0"/>
<line x1="585.78" y1="254.5" x2="590.07" y2="256.98" stroke="#111" stroke-width="1.0"/>
<g transform="translate(617.6 269.3) rotate(-149.3)">
<rect x="0" y="-2.7" width="25.10776772236037" height="5.4" rx="1.2" fill="#fff" stroke="#111" stroke-width="1.3"/>
<line x1="1.5" y1="-2.2" x2="2.9" y2="2.2" stroke="#111" stroke-width="1.0"/>
<line x1="3.0" y1="-2.2" x2="4.4" y2="2.2" stroke="#111" stroke-width="1.0"/>
<line x1="4.5" y1="-2.2" x2="5.9" y2="2.2" stroke="#111" stroke-width="1.0"/>
<line x1="6.0" y1="-2.2" x2="7.4" y2="2.2" stroke="#111" stroke-width="1.0"/>
<line x1="7.5" y1="-2.2" x2="8.9" y2="2.2" stroke="#111" stroke-width="1.0"/>
<line x1="9.0" y1="-2.2" x2="10.4" y2="2.2" stroke="#111" stroke-width="1.0"/>
<line x1="10.5" y1="-2.2" x2="11.9" y2="2.2" stroke="#111" stroke-width="1.0"/>
<line x1="12.0" y1="-2.2" x2="13.4" y2="2.2" stroke="#111" stroke-width="1.0"/>
<line x1="1" y1="1.7000000000000002" x2="12.553883861180186" y2="1.7000000000000002" stroke="#111" stroke-width="1"/>
</g>
<g transform="translate(669.1 273.7) rotate(25.2)">
<rect x="0" y="-2.8" width="25.318965223721115" height="5.6" rx="1.2" fill="#fff" stroke="#111" stroke-width="1.3"/>
<line x1="1.5" y1="-2.3" x2="2.9" y2="2.3" stroke="#111" stroke-width="1.0"/>
<line x1="3.0" y1="-2.3" x2="4.4" y2="2.3" stroke="#111" stroke-width="1.0"/>
<line x1="4.5" y1="-2.3" x2="5.9" y2="2.3" stroke="#111" stroke-width="1.0"/>
<line x1="6.0" y1="-2.3" x2="7.4" y2="2.3" stroke="#111" stroke-width="1.0"/>
<line x1="7.5" y1="-2.3" x2="8.9" y2="2.3" stroke="#111" stroke-width="1.0"/>
<line x1="9.0" y1="-2.3" x2="10.4" y2="2.3" stroke="#111" stroke-width="1.0"/>
<line x1="10.5" y1="-2.3" x2="11.9" y2="2.3" stroke="#111" stroke-width="1.0"/>
<line x1="12.0" y1="-2.3" x2="13.4" y2="2.3" stroke="#111" stroke-width="1.0"/>
<line x1="1" y1="1.7999999999999998" x2="12.659482611860557" y2="1.7999999999999998" stroke="#111" stroke-width="1"/>
</g>
<polygon points="689.7,287.0 692.1,281.7 695.6,280.2 699.9,282.1 700.9,285.8 698.5,291.1 695.0,292.6 690.8,290.7" fill="#fff" stroke="#111" stroke-width="1.3" stroke-linejoin="round"/>
<polygon points="690.8,290.7 694.2,289.1 696.7,283.9 695.6,280.2 692.1,281.7 689.7,287.0" fill="none" stroke="#111" stroke-width="1.0"/>
<line x1="694.25" y1="289.11" x2="698.45" y2="291.07" stroke="#111" stroke-width="1.0"/>
<line x1="696.7" y1="283.85" x2="700.9" y2="285.81" stroke="#111" stroke-width="1.0"/>
<line x1="692.15" y1="281.73" x2="696.35" y2="283.69" stroke="#111" stroke-width="1.0"/>
<line x1="689.7" y1="286.99" x2="693.9" y2="288.95" stroke="#111" stroke-width="1.0"/>
<path d="M703.0,292.3 L712.0,296.0 L714.5,300.0 L701.2,309.2" fill="none" stroke="#111" stroke-width="9.1" stroke-linejoin="round" stroke-linecap="round"/>
<path d="M703.0,292.3 L712.0,296.0 L714.5,300.0 L701.2,309.2" fill="none" stroke="#fff" stroke-width="6.5" stroke-linejoin="round" stroke-linecap="round"/>
<g transform="translate(699.5 308.4) rotate(-30.0)">
<path d="M-1.53,-3.4 L1.53,-3.4 A1.53,3.4 0 0 1 1.53,3.4 L-1.53,3.4 A1.53,3.4 0 0 1 -1.53,-3.4 Z" fill="#fff" stroke="#111" stroke-width="1.3"/>
<ellipse cx="-1.53" cy="0" rx="1.53" ry="3.4" fill="#fff" stroke="#111" stroke-width="1.1"/>
</g>
<polygon points="684.8,313.4 685.5,309.8 689.3,307.5 692.8,308.7 695.6,313.6 694.9,317.2 691.1,319.5 687.6,318.3" fill="#fff" stroke="#111" stroke-width="1.3" stroke-linejoin="round"/>
<polygon points="691.1,319.5 691.8,315.8 689.0,311.0 685.5,309.8 684.8,313.4 687.6,318.3" fill="none" stroke="#111" stroke-width="1.0"/>
<line x1="691.76" y1="315.83" x2="695.64" y2="313.59" stroke="#111" stroke-width="1.0"/>
<line x1="688.96" y1="310.98" x2="692.84" y2="308.74" stroke="#111" stroke-width="1.0"/>
<line x1="684.76" y1="313.41" x2="688.64" y2="311.17" stroke="#111" stroke-width="1.0"/>
<line x1="687.56" y1="318.26" x2="691.44" y2="316.02" stroke="#111" stroke-width="1.0"/>
<ellipse cx="690.2" cy="313.5" rx="2.2" ry="4" transform="rotate(-30 690.2 313.5)" fill="#111"/>
<g transform="translate(681.8 318.6) rotate(-30.0)">
<path d="M-1.4400000000000002,-3.2 L1.4400000000000002,-3.2 A1.4400000000000002,3.2 0 0 1 1.4400000000000002,3.2 L-1.4400000000000002,3.2 A1.4400000000000002,3.2 0 0 1 -1.4400000000000002,-3.2 Z" fill="#fff" stroke="#111" stroke-width="1.3"/>
<ellipse cx="-1.4400000000000002" cy="0" rx="1.4400000000000002" ry="3.2" fill="#fff" stroke="#111" stroke-width="1.1"/>
</g>
<g transform="translate(675.0 322.8) rotate(-30.0)">
<path d="M-1.1700000000000002,-2.6 L1.1700000000000002,-2.6 A1.1700000000000002,2.6 0 0 1 1.1700000000000002,2.6 L-1.1700000000000002,2.6 A1.1700000000000002,2.6 0 0 1 -1.1700000000000002,-2.6 Z" fill="#fff" stroke="#111" stroke-width="1.3"/>
<ellipse cx="-1.1700000000000002" cy="0" rx="1.1700000000000002" ry="2.6" fill="#fff" stroke="#111" stroke-width="1.1"/>
</g>
<polygon points="667.3,325.4 667.6,323.6 669.6,322.5 671.3,323.1 672.7,325.6 672.4,327.4 670.4,328.5 668.7,327.9" fill="#111" stroke="#111" stroke-width="1.3" stroke-linejoin="round"/>
<polygon points="670.4,328.5 670.8,326.7 669.4,324.2 667.6,323.6 667.3,325.4 668.7,327.9" fill="none" stroke="#fff" stroke-width="0.7"/>
<line x1="670.78" y1="326.67" x2="672.72" y2="325.55" stroke="#fff" stroke-width="0.7"/>
<line x1="669.38" y1="324.24" x2="671.32" y2="323.12" stroke="#fff" stroke-width="0.7"/>
<line x1="667.28" y1="325.45" x2="669.22" y2="324.33" stroke="#fff" stroke-width="0.7"/>
<line x1="668.68" y1="327.88" x2="670.62" y2="326.76" stroke="#fff" stroke-width="0.7"/>
<path d="M657.5,324.5 L657.5,336.5 A4.8,2.88 0 0 0 667.0999999999999,336.5 L667.0999999999999,324.5 Z" fill="#fff" stroke="#111" stroke-width="1.3"/>
<ellipse cx="662.3" cy="324.5" rx="4.8" ry="2.88" fill="#fff" stroke="#111" stroke-width="1.3"/>
<line x1="657.5" y1="327.5" x2="667.0999999999999" y2="327.5" stroke="#111" stroke-width="1"/>
<path d="M658.0,335.0 L666.5999999999999,335.0 L666.0999999999999,338.5 L658.5,338.5 Z" fill="#111"/>
<line x1="662.5" y1="337" x2="662.5" y2="344" stroke="#111" stroke-width="1.1" />
<g transform="translate(654.2 356.9) rotate(30.2)">
<path d="M0,-15.5 L123.54209808806063,-15.5 L123.54209808806063,15.5 L0,15.5 A7.75,15.5 0 0 1 0,-15.5 Z" fill="#fff" stroke="none"/>
<line x1="0" y1="-15.5" x2="123.54209808806063" y2="-15.5" stroke="#111" stroke-width="1.3"/>
<line x1="0" y1="15.5" x2="123.54209808806063" y2="15.5" stroke="#111" stroke-width="1.3"/>
<path d="M0,-15.5 A7.75,15.5 0 0 0 0,15.5" fill="#fff" stroke="#111" stroke-width="1.3"/>
<ellipse cx="123.54209808806063" cy="0" rx="7.75" ry="15.5" fill="#fff" stroke="#111" stroke-width="1.3"/>
</g>
<g transform="translate(654.2 356.9) rotate(30.2)">
<path d="M0,-15.5 A8.5,15.5 0 0 0 0,15.5" fill="#fff" stroke="#111" stroke-width="1.3"/>
</g>
<path d="M633,349 Q636,342.5 642,342.5 L653.8,341 Q656.5,341.5 655.8,344.5 L648.5,351.5 Q646,355 645.5,362 Q645.5,369.5 642,370 Q634,369 632.2,359 Q631.8,353 633,349 Z" fill="#fff" stroke="#111" stroke-width="1.4" stroke-linejoin="round" stroke-linecap="round" />
<ellipse cx="638.9" cy="356" rx="4.2" ry="6" transform="rotate(-10 638.9 356)" fill="#fff" stroke="#111" stroke-width="1.2" />
<ellipse cx="639.3" cy="356.5" rx="2.2" ry="3.4" transform="rotate(-10 639.3 356.5)" fill="#fff" stroke="#111" stroke-width="1.1" />
<line x1="642" y1="343.5" x2="648" y2="350" stroke="#111" stroke-width="1.5" />
<line x1="648.5" y1="342.2" x2="653.5" y2="347" stroke="#111" stroke-width="1.5" />
<g transform="translate(762.0 419.0) rotate(30.2)">
<ellipse cx="0" cy="0" rx="8" ry="15.8" fill="#fff" stroke="#111" stroke-width="1.3"/>
<path d="M1.5,-10.5 L12,-10.5 L12,10.5 L1.5,10.5 A4.5,10.5 0 0 1 1.5,-10.5 Z" fill="#fff" stroke="#111" stroke-width="1.2"/>
</g>
<path d="M780.3,414.9 L783,413 L802.8,423.5 Q806,426 805,432 Q803.5,442 798.5,443.5 L794,441.5 L776,432 Z" fill="#fff" stroke="#111" stroke-width="1.3" stroke-linejoin="round" stroke-linecap="round" />
<path d="M783,413 L802.8,423.5" fill="none" stroke="#111" stroke-width="1.6" stroke-linejoin="round" stroke-linecap="round" />
<ellipse cx="795.7" cy="431.5" rx="2.6" ry="3.8" transform="rotate(-25 795.7 431.5)" fill="#fff" stroke="#111" stroke-width="1.2" />
<path d="M795.7,431.5 L797,429" fill="none" stroke="#111" stroke-width="0.8" stroke-linejoin="round" stroke-linecap="round" />
<polygon points="766.0,423.0 769.6,419.6 781.5,414.9 786.0,418.0 772.0,426.0" fill="#fff" stroke="#111" stroke-width="1.2" stroke-linejoin="round" />
<path d="M766,423 L769.6,420 L791,431.5 Q795,434.5 794,440 Q792.5,449.5 786,449.5 L771,441.5 Q766.5,439 766.3,434 Z" fill="#fff" stroke="#111" stroke-width="1.4" stroke-linejoin="round" stroke-linecap="round" />
<path d="M769.6,420 L791,431.5" fill="none" stroke="#111" stroke-width="1.5" stroke-linejoin="round" stroke-linecap="round" />
<ellipse cx="783.9" cy="439.2" rx="2.8" ry="4" transform="rotate(-25 783.9 439.2)" fill="#fff" stroke="#111" stroke-width="1.3" />
<path d="M658.3000000000001,346.5 L658.3000000000001,349.5 A4.4,2.8 0 0 0 667.1,349.5 L667.1,346.5 Z" fill="#fff" stroke="#111" stroke-width="1.2"/>
<ellipse cx="662.7" cy="346.5" rx="4.4" ry="2.8" fill="#fff" stroke="#111" stroke-width="1.2"/>
<ellipse cx="662.7" cy="346.5" rx="2.4200000000000004" ry="1.4" fill="#111" stroke="none"/>
<path d="M752.8,401.3 L752.8,404.3 A4.6,2.9 0 0 0 762.0,404.3 L762.0,401.3 Z" fill="#fff" stroke="#111" stroke-width="1.2"/>
<ellipse cx="757.4" cy="401.3" rx="4.6" ry="2.9" fill="#fff" stroke="#111" stroke-width="1.2"/>
<ellipse cx="757.4" cy="401.3" rx="2.53" ry="1.45" fill="#111" stroke="none"/>
<g transform="translate(755.6 335.2) rotate(29.1)">
<rect x="0" y="-2.8" width="22.203603311174504" height="5.6" rx="1.2" fill="#fff" stroke="#111" stroke-width="1.3"/>
<line x1="1.5" y1="-2.3" x2="2.9" y2="2.3" stroke="#111" stroke-width="1.0"/>
<line x1="3.0" y1="-2.3" x2="4.4" y2="2.3" stroke="#111" stroke-width="1.0"/>
<line x1="4.5" y1="-2.3" x2="5.9" y2="2.3" stroke="#111" stroke-width="1.0"/>
<line x1="6.0" y1="-2.3" x2="7.4" y2="2.3" stroke="#111" stroke-width="1.0"/>
<line x1="7.5" y1="-2.3" x2="8.9" y2="2.3" stroke="#111" stroke-width="1.0"/>
<line x1="9.0" y1="-2.3" x2="10.4" y2="2.3" stroke="#111" stroke-width="1.0"/>
<line x1="10.5" y1="-2.3" x2="11.9" y2="2.3" stroke="#111" stroke-width="1.0"/>
<line x1="1" y1="1.7999999999999998" x2="11.101801655587252" y2="1.7999999999999998" stroke="#111" stroke-width="1"/>
</g>
<polygon points="773.0,349.6 776.3,343.4 780.6,341.7 785.6,344.3 786.6,348.9 783.3,355.0 779.0,356.7 774.0,354.1" fill="#fff" stroke="#111" stroke-width="1.3" stroke-linejoin="round"/>
<polygon points="774.0,354.1 778.4,352.4 781.6,346.2 780.6,341.7 776.3,343.4 773.0,349.6" fill="none" stroke="#111" stroke-width="1.0"/>
<line x1="778.36" y1="352.4" x2="783.31" y2="355.03" stroke="#111" stroke-width="1.0"/>
<line x1="781.65" y1="346.22" x2="786.59" y2="348.85" stroke="#111" stroke-width="1.0"/>
<line x1="776.29" y1="343.37" x2="781.24" y2="346.0" stroke="#111" stroke-width="1.0"/>
<line x1="773.01" y1="349.55" x2="777.95" y2="352.18" stroke="#111" stroke-width="1.0"/>
<path d="M781,343 L785,346 L784.5,354 L780,356 Z" fill="#111"/>
<g transform="translate(787.7 352.9) rotate(28.0)">
<path d="M-1.25,-4.6 L1.25,-4.6 A2.07,4.6 0 0 1 1.25,4.6 L-1.25,4.6 A2.07,4.6 0 0 1 -1.25,-4.6 Z" fill="#fff" stroke="#111" stroke-width="1.3"/>
<ellipse cx="-1.25" cy="0" rx="2.07" ry="4.6" fill="#fff" stroke="#111" stroke-width="1.1"/>
</g>
<path d="M794.3,354 L794.3,367.5 A5,3.0 0 0 0 804.3,367.5 L804.3,354 Z" fill="#fff" stroke="#111" stroke-width="1.3"/>
<ellipse cx="799.3" cy="354" rx="5" ry="3.0" fill="#fff" stroke="#111" stroke-width="1.3"/>
<line x1="794.3" y1="357" x2="804.3" y2="357" stroke="#111" stroke-width="1"/>
<path d="M794.8,366.0 L803.8,366.0 L803.3,369.5 L795.3,369.5 Z" fill="#111"/>
<polygon points="787.3,356.7 789.6,352.5 792.6,351.4 796.0,353.2 796.7,356.3 794.4,360.5 791.4,361.6 788.0,359.8" fill="#111" stroke="#111" stroke-width="1.3" stroke-linejoin="round"/>
<polygon points="788.0,359.8 791.0,358.7 793.3,354.5 792.6,351.4 789.6,352.5 787.3,356.7" fill="none" stroke="#fff" stroke-width="0.7"/>
<line x1="791.01" y1="358.69" x2="794.4" y2="360.5" stroke="#fff" stroke-width="0.7"/>
<line x1="793.27" y1="354.46" x2="796.66" y2="356.26" stroke="#fff" stroke-width="0.7"/>
<line x1="789.6" y1="352.5" x2="792.99" y2="354.31" stroke="#fff" stroke-width="0.7"/>
<line x1="787.34" y1="356.74" x2="790.73" y2="358.54" stroke="#fff" stroke-width="0.7"/>
<g transform="translate(545.7 409.1) rotate(-27.5)">
<path d="M0,-4.3 L22.09524835796143,-4.3 L22.09524835796143,4.3 L0,4.3 A2.365,4.3 0 0 1 0,-4.3 Z" fill="#fff" stroke="none"/>
<line x1="0" y1="-4.3" x2="22.09524835796143" y2="-4.3" stroke="#111" stroke-width="1.3"/>
<line x1="0" y1="4.3" x2="22.09524835796143" y2="4.3" stroke="#111" stroke-width="1.3"/>
<path d="M0,-4.3 A2.365,4.3 0 0 0 0,4.3" fill="#fff" stroke="#111" stroke-width="1.3"/>
<ellipse cx="22.09524835796143" cy="0" rx="2.365" ry="4.3" fill="#fff" stroke="#111" stroke-width="1.3"/>
</g>
<g transform="translate(545.7 409.1) rotate(-27.5)">
<ellipse cx="0" cy="0" rx="2.6" ry="4.3" fill="#fff" stroke="#111" stroke-width="1.5"/>
</g>
<rect x="546.6" y="423.3" width="3.6" height="13.5" rx="1.5" fill="#111"/>
<line x1="546.4" y1="424" x2="550.4" y2="424.5" stroke="#fff" stroke-width="0.5"/>
<line x1="546.4" y1="426" x2="550.4" y2="426.5" stroke="#fff" stroke-width="0.5"/>
<line x1="546.4" y1="428" x2="550.4" y2="428.5" stroke="#fff" stroke-width="0.5"/>
<line x1="546.4" y1="430" x2="550.4" y2="430.5" stroke="#fff" stroke-width="0.5"/>
<line x1="546.4" y1="432" x2="550.4" y2="432.5" stroke="#fff" stroke-width="0.5"/>
<line x1="546.4" y1="434" x2="550.4" y2="434.5" stroke="#fff" stroke-width="0.5"/>
<line x1="548.4" y1="418.3" x2="548.4" y2="423.3" stroke="#999" stroke-width="0.8" />
<rect x="560.8000000000001" y="413.8" width="3.6" height="14.199999999999989" rx="1.5" fill="#111"/>
<line x1="560.6" y1="414" x2="564.6" y2="414.5" stroke="#fff" stroke-width="0.5"/>
<line x1="560.6" y1="416" x2="564.6" y2="416.5" stroke="#fff" stroke-width="0.5"/>
<line x1="560.6" y1="418" x2="564.6" y2="418.5" stroke="#fff" stroke-width="0.5"/>
<line x1="560.6" y1="420" x2="564.6" y2="420.5" stroke="#fff" stroke-width="0.5"/>
<line x1="560.6" y1="422" x2="564.6" y2="422.5" stroke="#fff" stroke-width="0.5"/>
<line x1="560.6" y1="424" x2="564.6" y2="424.5" stroke="#fff" stroke-width="0.5"/>
<line x1="560.6" y1="426" x2="564.6" y2="426.5" stroke="#fff" stroke-width="0.5"/>
<line x1="562.6" y1="408.8" x2="562.6" y2="413.8" stroke="#999" stroke-width="0.8" />
<g transform="translate(753.1 455.2) rotate(-24.7)">
<path d="M0,-4.0 L19.374467734624357,-4.0 L19.374467734624357,4.0 L0,4.0 A2.0,4.0 0 0 1 0,-4.0 Z" fill="#fff" stroke="none"/>
<line x1="0" y1="-4.0" x2="19.374467734624357" y2="-4.0" stroke="#111" stroke-width="1.3"/>
<line x1="0" y1="4.0" x2="19.374467734624357" y2="4.0" stroke="#111" stroke-width="1.3"/>
<path d="M0,-4.0 A2.0,4.0 0 0 0 0,4.0" fill="#fff" stroke="#111" stroke-width="1.3"/>
<ellipse cx="19.374467734624357" cy="0" rx="2.0" ry="4.0" fill="#fff" stroke="#111" stroke-width="1.3"/>
</g>
<g transform="translate(753.1 455.2) rotate(-24.7)">
<ellipse cx="0" cy="0" rx="2.4" ry="4" fill="#fff" stroke="#111" stroke-width="1.4"/>
</g>
<rect x="752.9" y="471.4" width="3.2" height="12.200000000000045" rx="1.4" fill="#fff" stroke="#111" stroke-width="1.1"/>
<line x1="754.5" y1="466.4" x2="754.5" y2="471.4" stroke="#999" stroke-width="0.8" />
<rect x="767.8" y="462" width="3.2" height="13.5" rx="1.4" fill="#111" stroke="#111" stroke-width="1.1"/>
<line x1="769.4" y1="457" x2="769.4" y2="462" stroke="#999" stroke-width="0.8" />
<g transform="translate(103.1 379.1) rotate(-26.6)">
<path d="M12,-9 L31.793246471118508,-9 L31.793246471118508,9 L12,9 Z" fill="#fff" stroke="#111" stroke-width="1.4"/>
<ellipse cx="31.793246471118508" cy="0" rx="3" ry="9" fill="#fff" stroke="#111" stroke-width="1.3"/>
<rect x="15.5" y="-9" width="4.5" height="18" fill="#111"/>
<rect x="24" y="-9" width="3" height="18" fill="#111"/>
<ellipse cx="22" cy="0" rx="2.6" ry="9" fill="none" stroke="#111" stroke-width="1.1"/>
<ellipse cx="12" cy="0" rx="3" ry="9" fill="#fff" stroke="#111" stroke-width="1.3"/>
<path d="M0,-6.8 L12,-6.8 L12,6.8 L0,6.8 Z" fill="#fff" stroke="#111" stroke-width="1.4"/>
<ellipse cx="4.5" cy="0" rx="2.6" ry="6.8" fill="none" stroke="#111" stroke-width="1.2"/>
<ellipse cx="8.5" cy="0" rx="2.6" ry="6.8" fill="none" stroke="#111" stroke-width="1.6"/>
<ellipse cx="0" cy="0" rx="4.2" ry="6.8" fill="#fff" stroke="#111" stroke-width="1.5"/>
<ellipse cx="0.4" cy="0" rx="2.6" ry="4.4" fill="#fff" stroke="#111" stroke-width="1.3"/>
</g>
<g transform="translate(167.3 343.4) rotate(152.4)">
<rect x="0" y="-3.0" width="22.90087334579188" height="6" rx="1.2" fill="#fff" stroke="#111" stroke-width="1.3"/>
<line x1="1.5" y1="-2.5" x2="2.9" y2="2.5" stroke="#111" stroke-width="1.0"/>
<line x1="3.0" y1="-2.5" x2="4.4" y2="2.5" stroke="#111" stroke-width="1.0"/>
<line x1="4.5" y1="-2.5" x2="5.9" y2="2.5" stroke="#111" stroke-width="1.0"/>
<line x1="6.0" y1="-2.5" x2="7.4" y2="2.5" stroke="#111" stroke-width="1.0"/>
<line x1="7.5" y1="-2.5" x2="8.9" y2="2.5" stroke="#111" stroke-width="1.0"/>
<line x1="9.0" y1="-2.5" x2="10.4" y2="2.5" stroke="#111" stroke-width="1.0"/>
<line x1="10.5" y1="-2.5" x2="11.9" y2="2.5" stroke="#111" stroke-width="1.0"/>
<line x1="1" y1="2.0" x2="11.45043667289594" y2="2.0" stroke="#111" stroke-width="1"/>
</g>
<polygon points="136.8,355.6 137.8,351.5 142.4,349.1 146.3,350.7 149.2,356.4 148.2,360.5 143.6,362.9 139.7,361.3" fill="#fff" stroke="#111" stroke-width="1.3" stroke-linejoin="round"/>
<polygon points="143.6,362.9 144.6,358.8 141.7,353.1 137.8,351.5 136.8,355.6 139.7,361.3" fill="none" stroke="#111" stroke-width="1.0"/>
<line x1="144.64" y1="358.76" x2="149.2" y2="356.43" stroke="#111" stroke-width="1.0"/>
<line x1="141.74" y1="353.05" x2="146.3" y2="350.73" stroke="#111" stroke-width="1.0"/>
<line x1="136.8" y1="355.57" x2="141.36" y2="353.24" stroke="#111" stroke-width="1.0"/>
<line x1="139.7" y1="361.27" x2="144.26" y2="358.95" stroke="#111" stroke-width="1.0"/>
<path d="M141,350.5 L146,349 L148.5,356 L145,361.5 Z" fill="#111"/>
<g transform="translate(108.5 485.0) rotate(-26.6)">
<path d="M12,-9 L31.793246471118508,-9 L31.793246471118508,9 L12,9 Z" fill="#fff" stroke="#111" stroke-width="1.4"/>
<ellipse cx="31.793246471118508" cy="0" rx="3" ry="9" fill="#fff" stroke="#111" stroke-width="1.3"/>
<rect x="15.5" y="-9" width="4.5" height="18" fill="#111"/>
<rect x="24" y="-9" width="3" height="18" fill="#111"/>
<ellipse cx="22" cy="0" rx="2.6" ry="9" fill="none" stroke="#111" stroke-width="1.1"/>
<ellipse cx="12" cy="0" rx="3" ry="9" fill="#fff" stroke="#111" stroke-width="1.3"/>
<path d="M0,-6.8 L12,-6.8 L12,6.8 L0,6.8 Z" fill="#fff" stroke="#111" stroke-width="1.4"/>
<ellipse cx="4.5" cy="0" rx="2.6" ry="6.8" fill="none" stroke="#111" stroke-width="1.2"/>
<ellipse cx="8.5" cy="0" rx="2.6" ry="6.8" fill="none" stroke="#111" stroke-width="1.6"/>
<ellipse cx="0" cy="0" rx="4.2" ry="6.8" fill="#fff" stroke="#111" stroke-width="1.5"/>
<ellipse cx="0.4" cy="0" rx="2.6" ry="4.4" fill="#fff" stroke="#111" stroke-width="1.3"/>
</g>
<g transform="translate(172.4 449.1) rotate(151.9)">
<rect x="0" y="-3.0" width="23.12941849679753" height="6" rx="1.2" fill="#fff" stroke="#111" stroke-width="1.3"/>
<line x1="1.5" y1="-2.5" x2="2.9" y2="2.5" stroke="#111" stroke-width="1.0"/>
<line x1="3.0" y1="-2.5" x2="4.4" y2="2.5" stroke="#111" stroke-width="1.0"/>
<line x1="4.5" y1="-2.5" x2="5.9" y2="2.5" stroke="#111" stroke-width="1.0"/>
<line x1="6.0" y1="-2.5" x2="7.4" y2="2.5" stroke="#111" stroke-width="1.0"/>
<line x1="7.5" y1="-2.5" x2="8.9" y2="2.5" stroke="#111" stroke-width="1.0"/>
<line x1="9.0" y1="-2.5" x2="10.4" y2="2.5" stroke="#111" stroke-width="1.0"/>
<line x1="10.5" y1="-2.5" x2="11.9" y2="2.5" stroke="#111" stroke-width="1.0"/>
<line x1="1" y1="2.0" x2="11.564709248398765" y2="2.0" stroke="#111" stroke-width="1"/>
</g>
<polygon points="141.8,461.4 142.8,457.3 147.4,454.9 151.3,456.5 154.2,462.2 153.2,466.3 148.6,468.7 144.7,467.1" fill="#fff" stroke="#111" stroke-width="1.3" stroke-linejoin="round"/>
<polygon points="148.6,468.7 149.6,464.6 146.7,458.9 142.8,457.3 141.8,461.4 144.7,467.1" fill="none" stroke="#111" stroke-width="1.0"/>
<line x1="149.64" y1="464.56" x2="154.2" y2="462.23" stroke="#111" stroke-width="1.0"/>
<line x1="146.74" y1="458.85" x2="151.3" y2="456.53" stroke="#111" stroke-width="1.0"/>
<line x1="141.8" y1="461.37" x2="146.36" y2="459.04" stroke="#111" stroke-width="1.0"/>
<line x1="144.7" y1="467.07" x2="149.26" y2="464.75" stroke="#111" stroke-width="1.0"/>
<path d="M146,456.3 L151,454.8 L153.5,461.8 L150,467.3 Z" fill="#111"/>
<path d="M158.5,384 C166.0,390 180.0,395 187.7,406.9 C192.0,414 190.0,424 183.9,425.9 C175.0,432 155.0,435 143.3,433.5 C130.0,432 120.0,425 111.6,418.3" fill="none" stroke="#111" stroke-width="5.2" stroke-linejoin="round" stroke-linecap="round" />
<path d="M158.5,384 C166.0,390 180.0,395 187.7,406.9 C192.0,414 190.0,424 183.9,425.9 C175.0,432 155.0,435 143.3,433.5 C130.0,432 120.0,425 111.6,418.3" fill="none" stroke="#fff" stroke-width="2.6" stroke-linejoin="round" stroke-linecap="round" />
<ellipse cx="157.3" cy="376.4" rx="6.3" ry="9" transform="rotate(-28 157.3 376.4)" fill="#fff" stroke="#111" stroke-width="1.5" />
<ellipse cx="156.8" cy="377" rx="3.2" ry="4.6" transform="rotate(-28 156.8 377)" fill="#fff" stroke="#111" stroke-width="1.3" />
<path d="M101.4,406.9 Q95.5,410 97.6,416 Q101.0,426 109.0,427.2 Q116.0,427 119.2,420.8 L126.8,413.2 Q127.0,405 120.0,403 Q115.0,401 101.4,406.9 Z" fill="#fff" stroke="#111" stroke-width="1.3" stroke-linejoin="round" stroke-linecap="round" />
<path d="M113.0,403.5 Q106.0,410 119.2,420.8" fill="none" stroke="#111" stroke-width="1.3" stroke-linejoin="round" stroke-linecap="round" />
<path d="M163.5,490 C171.0,496 185.0,501 192.7,512.9 C197.0,520 195.0,530 188.9,531.9 C180.0,538 160.0,541 148.3,539.5 C135.0,538 125.0,531 116.6,524.3" fill="none" stroke="#111" stroke-width="5.2" stroke-linejoin="round" stroke-linecap="round" />
<path d="M163.5,490 C171.0,496 185.0,501 192.7,512.9 C197.0,520 195.0,530 188.9,531.9 C180.0,538 160.0,541 148.3,539.5 C135.0,538 125.0,531 116.6,524.3" fill="none" stroke="#fff" stroke-width="2.6" stroke-linejoin="round" stroke-linecap="round" />
<ellipse cx="162.3" cy="482.4" rx="6.3" ry="9" transform="rotate(-28 162.3 482.4)" fill="#fff" stroke="#111" stroke-width="1.5" />
<ellipse cx="161.8" cy="483" rx="3.2" ry="4.6" transform="rotate(-28 161.8 483)" fill="#fff" stroke="#111" stroke-width="1.3" />
<path d="M106.4,512.9 Q100.5,516 102.6,522 Q106.0,532 114.0,533.2 Q121.0,533 124.2,526.8 L131.8,519.2 Q132.0,511 125.0,509 Q120.0,507 106.4,512.9 Z" fill="#fff" stroke="#111" stroke-width="1.3" stroke-linejoin="round" stroke-linecap="round" />
<path d="M118.0,509.5 Q111.0,516 124.2,526.8" fill="none" stroke="#111" stroke-width="1.3" stroke-linejoin="round" stroke-linecap="round" />
<path d="M24.5,380.5 L62.5,399.2 Q64.5,400.5 64.8,403 L73.8,492.5 Q74,496.5 70.5,495.5 L32.5,476 Q29.8,474.5 29.5,472 L21,384.5 Q21,380 24.5,380.5 Z" fill="#fff" stroke="#111" stroke-width="1.2" stroke-linejoin="round" stroke-linecap="round" />
<path d="M64.8,403 L66.5,403.5 L75.5,494 Q75.5,497.5 72,497 L70.5,495.5" fill="none" stroke="#111" stroke-width="1.1" stroke-linejoin="round" stroke-linecap="round" />
<ellipse cx="33" cy="400.6" rx="5.8" ry="8.5" transform="rotate(-18 33 400.6)" fill="#fff" stroke="#111" stroke-width="1.1" />
<ellipse cx="52" cy="411.4" rx="4.5" ry="6" transform="rotate(-18 52 411.4)" fill="#fff" stroke="#111" stroke-width="1.1" />
<path d="M48,407 L56,416" fill="none" stroke="#111" stroke-width="0.9" stroke-linejoin="round" stroke-linecap="round" />
<ellipse cx="41.1" cy="427.7" rx="4.8" ry="7.4" transform="rotate(-18 41.1 427.7)" fill="#fff" stroke="#111" stroke-width="1.1" />
<ellipse cx="42.5" cy="442.5" rx="4.8" ry="7.4" transform="rotate(-18 42.5 442.5)" fill="#fff" stroke="#111" stroke-width="1.1" />
<ellipse cx="42.5" cy="458.8" rx="4.8" ry="7.4" transform="rotate(-18 42.5 458.8)" fill="#fff" stroke="#111" stroke-width="1.1" />
<ellipse cx="43.8" cy="475" rx="4.8" ry="7.4" transform="rotate(-18 43.8 475)" fill="#fff" stroke="#111" stroke-width="1.1" />
<ellipse cx="58.7" cy="437.1" rx="4.8" ry="7.4" transform="rotate(-18 58.7 437.1)" fill="#fff" stroke="#111" stroke-width="1.1" />
<ellipse cx="60" cy="452" rx="4.8" ry="7.4" transform="rotate(-18 60 452)" fill="#fff" stroke="#111" stroke-width="1.1" />
<ellipse cx="60" cy="466.9" rx="4.8" ry="7.4" transform="rotate(-18 60 466.9)" fill="#fff" stroke="#111" stroke-width="1.1" />
<ellipse cx="61.4" cy="483.1" rx="4.8" ry="7.4" transform="rotate(-18 61.4 483.1)" fill="#fff" stroke="#111" stroke-width="1.1" />
<ellipse cx="240" cy="429.3" rx="9.2" ry="17" transform="rotate(30 240 429.3)" fill="none" stroke="#111" stroke-width="1.8" />
<ellipse cx="240.6" cy="429" rx="7.8" ry="15.6" transform="rotate(30 240.6 429)" fill="none" stroke="#111" stroke-width="1.1" />
<path d="M236,444.5 L231,446.5" fill="none" stroke="#111" stroke-width="1.6" stroke-linejoin="round" stroke-linecap="round" />
<text x="209" y="443.8" font-size="7.2" text-anchor="start" font-weight="bold">1</text>
<text x="208.6" y="453.8" font-size="7.2" text-anchor="start" font-weight="bold">P</text>
<text x="209" y="464.3" font-size="7.2" text-anchor="start" font-weight="bold">T</text>
<ellipse cx="217.8" cy="444.1" rx="2.1" ry="2.6" transform="rotate(0 217.8 444.1)" fill="#fff" stroke="#111" stroke-width="1.6" />
<ellipse cx="217.8" cy="452.4" rx="2.1" ry="2.6" transform="rotate(0 217.8 452.4)" fill="#fff" stroke="#111" stroke-width="1.6" />
<ellipse cx="217.8" cy="463" rx="2.1" ry="2.6" transform="rotate(0 217.8 463)" fill="#fff" stroke="#111" stroke-width="1.6" />
<polyline points="393.7,366.7 393.7,351.3 454.6,284.3" fill="none" stroke="#111" stroke-width="1.4" stroke-linejoin="round" />
<polyline points="465.3,439.0 465.3,428.7 542.9,409.2" fill="none" stroke="#111" stroke-width="1.4" stroke-linejoin="round" />
<polyline points="646.0,503.5 646.0,492.3 716.0,401.0" fill="none" stroke="#111" stroke-width="1.4" stroke-linejoin="round" />
<polyline points="697.6,535.0 697.6,521.5 751.8,457.9" fill="none" stroke="#111" stroke-width="1.4" stroke-linejoin="round" />
<polyline points="780.2,545.9 780.2,531.0 754.5,485.0" fill="none" stroke="#111" stroke-width="1.4" stroke-linejoin="round" />
<polyline points="317.8,480.4 300.6,480.4 248.9,434.4" fill="none" stroke="#111" stroke-width="1.4" stroke-linejoin="round" />
<polyline points="315.0,512.0 297.7,512.0 220.1,444.5" fill="none" stroke="#111" stroke-width="1.4" stroke-linejoin="round" />
<polyline points="294.9,540.8 280.5,540.8 218.7,453.1" fill="none" stroke="#111" stroke-width="1.4" stroke-linejoin="round" />
<polyline points="283.4,562.3 267.5,562.3 218.7,464.6" fill="none" stroke="#111" stroke-width="1.4" stroke-linejoin="round" />
<polyline points="438.9,67.8 438.9,81.1 386.4,181.0" fill="none" stroke="#111" stroke-width="1.4" stroke-linejoin="round" />
<polyline points="507.8,85.6 507.8,98.9 462.0,209.8" fill="none" stroke="#111" stroke-width="1.4" stroke-linejoin="round" />
<polyline points="540.0,103.3 540.0,118.9 470.0,222.0" fill="none" stroke="#111" stroke-width="1.4" stroke-linejoin="round" />
<polyline points="568.9,117.8 568.9,136.7 492.0,247.0" fill="none" stroke="#111" stroke-width="1.4" stroke-linejoin="round" />
<polyline points="594.4,121.1 594.4,143.3 541.7,220.6" fill="none" stroke="#111" stroke-width="1.4" stroke-linejoin="round" />
<polyline points="617.8,146.7 617.8,164.4 575.5,240.0" fill="none" stroke="#111" stroke-width="1.4" stroke-linejoin="round" />
<polyline points="663.3,163.3 663.3,183.3 612.0,266.0" fill="none" stroke="#111" stroke-width="1.4" stroke-linejoin="round" />
<polyline points="730.0,200.0 730.0,214.4 674.2,321.1" fill="none" stroke="#111" stroke-width="1.4" stroke-linejoin="round" />
<polyline points="795.3,228.6 795.3,246.2 764.1,337.8" fill="none" stroke="#111" stroke-width="1.4" stroke-linejoin="round" />
<polyline points="830.9,244.6 830.9,270.3 789.8,347.4" fill="none" stroke="#111" stroke-width="1.4" stroke-linejoin="round" />
<polyline points="870.1,249.4 870.1,275.1 802.7,350.6" fill="none" stroke="#111" stroke-width="1.4" stroke-linejoin="round" />
<polyline points="114.7,158.7 114.7,138.8 168.0,71.0" fill="none" stroke="#111" stroke-width="1.4" stroke-linejoin="round" />
<polyline points="226.5,214.4 226.5,232.0 179.5,395.0" fill="none" stroke="#111" stroke-width="1.4" stroke-linejoin="round" />
<polyline points="167.0,236.7 166.8,245.0 158.2,342.3" fill="none" stroke="#111" stroke-width="1.4" stroke-linejoin="round" />
<polyline points="109.0,260.9 109.0,270.0 122.8,357.6" fill="none" stroke="#111" stroke-width="1.4" stroke-linejoin="round" />
</svg></body></html>
